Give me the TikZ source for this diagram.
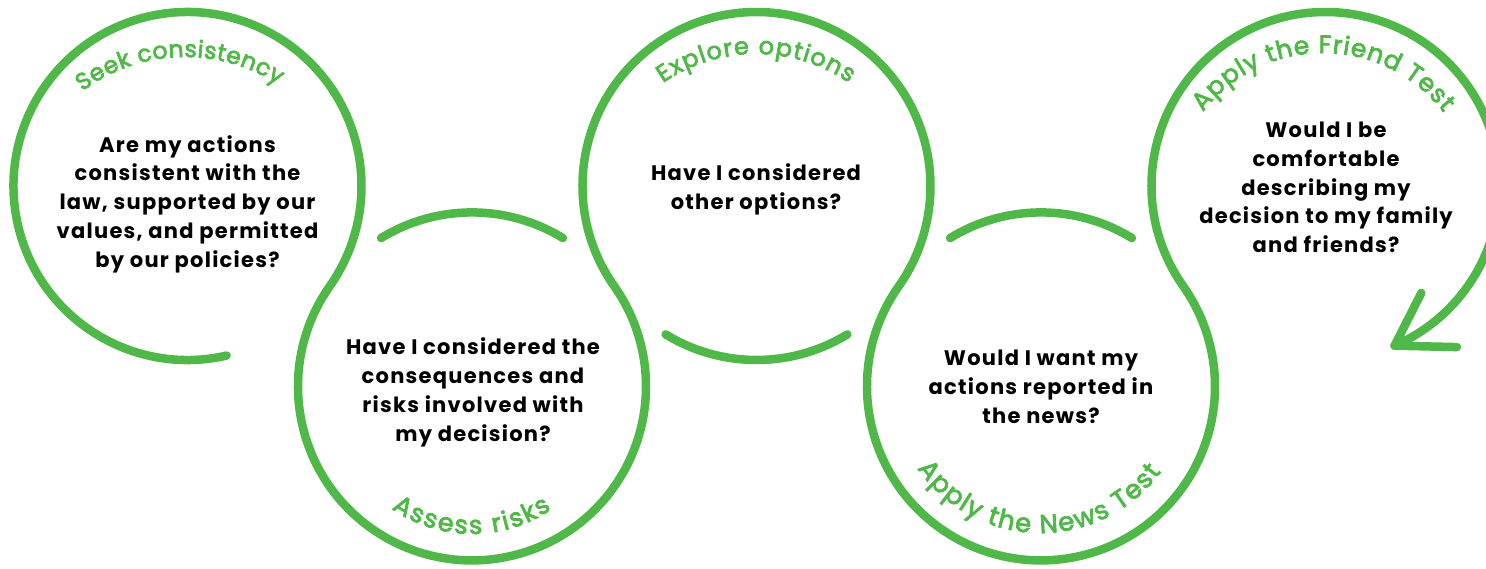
\documentclass[tikz,border=0pt]{standalone}
\usepackage{fontspec}
\setmainfont{Poppins}
\newfontfamily\lblfam{Poppins}[FakeBold=3]
\newfontfamily\qfam{Poppins}[LetterSpace=6]
\usetikzlibrary{decorations.text}
\definecolor{grn}{RGB}{80,184,72}
\newcommand\lblfont[1]{\lblfam\fontsize{#1}{28}\selectfont\color{grn}}
\newcommand\qfont{\qfam\bfseries\fontsize{21}{28.8}\selectfont}
\begin{document}
\begin{tikzpicture}[x=1pt,y=1pt,
  ring/.style={draw=grn, line width=8.5pt, line cap=round, line join=round},
  qtext/.style={align=center, font=\qfont, text=black, inner sep=0pt},
  arclabel/.style 2 args={decorate, decoration={text along path, text={|\lblfont{#1}|#2}, text align=fit to path}}
]
\useasboundingbox (0,0) rectangle (1486,-568);
% circle centres
\coordinate (c1) at (187.5,-186);
\coordinate (c2) at (472,-386.4);
\coordinate (c3) at (756.5,-186);
\coordinate (c4) at (1041,-386.4);
\coordinate (c5) at (1325.5,-186);
% main snake line
\draw[ring] (c1) ++(-77:174)
   arc[start angle=-77, end angle=-395.16, radius=174]
   arc[start angle=144.84, end angle=395.16, radius=174]
   arc[start angle=215.16, end angle=-35.16, radius=174]
   arc[start angle=144.84, end angle=395.16, radius=174]
   arc[start angle=215.16, end angle=-66.6, radius=174] coordinate (tip);
% arrow head
\draw[ring] (tip) ++(26.7,52.7) -- (tip) -- ++(62.3,-1.4);
% separate arcs
\draw[ring] (c2) ++(121.5:174) arc[start angle=121.5, end angle=58.5, radius=174];
\draw[ring] (c4) ++(121.5:174) arc[start angle=121.5, end angle=58.5, radius=174];
\draw[ring] (c3) ++(-121.5:174) arc[start angle=-121.5, end angle=-58.5, radius=174];
% questions
\node[qtext] (q1) at (187.5,-204) {Are my actions\\consistent with the\\law, supported by our\\values, and permitted\\by our policies?};
\node[qtext] (q2) at (473,-392.5) {Have I considered the\\consequences and\\risks involved with\\my decision?};
\node[qtext] (q3) at (756,-189) {Have I considered\\other options?};
\node[qtext] (q4) at (1041,-387) {Would I want my\\actions reported in\\the news?};
\node[qtext] (q5) at (1326,-187.5) {Would I be\\comfortable\\describing my\\decision to my family\\and friends?};
% curved labels
\coordinate (l1) at (185,-227);
\coordinate (l2) at (472,-394);
\coordinate (l3) at (756,-218);
\coordinate (l4) at (1040.5,-383.4);
\coordinate (l5) at (1323,-204.5);
\path[arclabel={23.5}{Seek consistency}] (l1) ++(127.1:170) arc[start angle=127.1, end angle=56.8, radius=170];
\path[arclabel={24}{Explore options}] (l3) ++(124.6:164) arc[start angle=124.6, end angle=55.4, radius=164];
\path[arclabel={25}{Apply the Friend Test}] (l5) ++(142.4:151.5) arc[start angle=142.4, end angle=37.3, radius=151.5];
\path[arclabel={25.5}{Assess risks}] (l2) ++(235:140) arc[start angle=235, end angle=304.6, radius=140];
\path[arclabel={26}{Apply the News Test}] (l4) ++(214.6:149.6) arc[start angle=214.6, end angle=323.8, radius=149.6];
\end{tikzpicture}
\end{document}
